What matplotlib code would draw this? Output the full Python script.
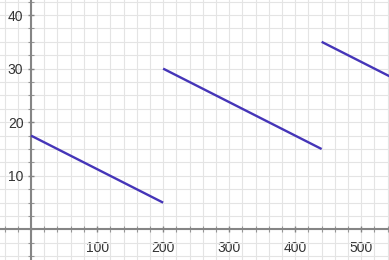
import matplotlib
matplotlib.use("Agg")
import matplotlib.pyplot as plt
from matplotlib.ticker import MultipleLocator, FixedLocator

plt.rcParams["font.family"] = ["Liberation Sans", "DejaVu Sans"]

# Data: three line segments (piecewise linear)
seg_x_start = [0, 200, 440]
seg_x_end = [200, 440, 560]
seg_y_start = [17.5, 30, 35]
seg_y_end = [5, 15, 27.5]

x_ticks = [100, 200, 300, 400, 500]
y_ticks = [10, 20, 30, 40]

fig = plt.figure(figsize=(3.89, 2.60), dpi=100)
ax = fig.add_axes([0, 0, 1, 1])

ax.set_xlim(-47, 542)
ax.set_ylim(-5.7, 42.8)

for x0, x1, y0, y1 in zip(seg_x_start, seg_x_end, seg_y_start, seg_y_end):
    ax.plot([x0, x1], [y0, y1], color="#4535b8", linewidth=1.7,
            solid_capstyle="butt", zorder=5)

# grid
ax.xaxis.set_minor_locator(MultipleLocator(20))
ax.yaxis.set_minor_locator(MultipleLocator(2.5))
ax.xaxis.set_major_locator(FixedLocator(x_ticks))
ax.yaxis.set_major_locator(FixedLocator(y_ticks))
ax.grid(which="both", color="#e4e4e4", linewidth=0.8, zorder=0)
ax.set_axisbelow(True)

# axes through zero
for s in ["top", "right"]:
    ax.spines[s].set_visible(False)
ax.spines["left"].set_position(("data", 0))
ax.spines["bottom"].set_position(("data", 0))
ax.spines["left"].set_color("#858585")
ax.spines["bottom"].set_color("#858585")
ax.spines["left"].set_linewidth(1.5)
ax.spines["bottom"].set_linewidth(1.5)

ax.tick_params(which="major", direction="inout", length=5, width=1,
               color="#858585", labelsize=10, labelcolor="#333333", pad=6)
ax.tick_params(which="minor", direction="inout", length=4, width=0.8,
               color="#959595")
ax.tick_params(axis="y", which="major", pad=3)

fig.savefig("out.png", dpi=100)
